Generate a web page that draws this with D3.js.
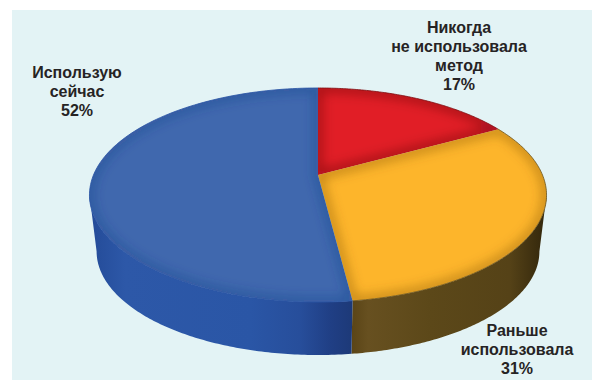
<!DOCTYPE html>
<html>
<head>
<meta charset="utf-8">
<script src="https://cdn.jsdelivr.net/npm/d3@7/dist/d3.min.js"></script>
<style>
  html, body { margin: 0; padding: 0; background: #fff; }
  svg { display: block; }
  text { font-family: "Liberation Sans", Arial, sans-serif; font-weight: 700; font-size: 16px; fill: #262324; text-anchor: middle; }
</style>
</head>
<body>
<svg id="chart" width="592" height="380"></svg>
<script>
// Method use shares, clockwise from twelve o'clock
const categories = ["Никогда не использовала метод", "Раньше использовала", "Использую сейчас"];
const shares = [17, 31, 52];
const faceColors = ["#e11e26", "#fdb52b", "#4068ae"];
const rimColors = ["#7d1014", "#6a5320", "#2a54a4"];
const labelLines = [
  ["Никогда", "не использовала", "метод", "17%"],
  ["Раньше", "использовала", "31%"],
  ["Использую", "сейчас", "52%"]
];

const svg = d3.select("#chart");
const defs = svg.append("defs");

svg.append("rect").attr("x", 12).attr("y", 10).attr("width", 580).attr("height", 370).attr("fill", "#e3f3f5");

// Perspective projection of a flat disc: k tilts the far edge away from the viewer
const k = -0.187;
const topDisc = { cx: 318, cy: 175, a: 224.5, b: 103.3 };
const baseDisc = { cx: 318, cy: 232, a: 217.5, b: 100 };
const project = (disc, angle) => {
  const u = Math.sin(angle), v = -Math.cos(angle), w = 1 + k * v;
  return [disc.cx + disc.a * u / w, disc.cy + disc.b * v / w];
};

const arcs = d3.pie().sort(null).value(d => d)(shares);
const samples = (a0, a1) => d3.range(0, 121).map(i => a0 + (a1 - a0) * i / 120);
const line = d3.line();

const facePath = d => line([[topDisc.cx, topDisc.cy], ...samples(d.startAngle, d.endAngle).map(t => project(topDisc, t))]) + "Z";

// Side wall runs between the left and right silhouette points of the disc
const silhouette = Math.PI - Math.acos(-k);
const sideRange = d => {
  const a0 = Math.max(d.startAngle, silhouette);
  const a1 = Math.min(d.endAngle, 2 * Math.PI - silhouette);
  return a1 > a0 ? [a0, a1] : null;
};
const sidePath = ([a0, a1]) => {
  const s = samples(a0, a1);
  return line([...s.map(t => project(topDisc, t)), ...s.slice().reverse().map(t => project(baseDisc, t))]) + "Z";
};

const sideStops = [
  [],
  [[351, "#5a4416"], [368, "#675020"], [430, "#5c4819"], [510, "#554217"], [545, "#33270c"]],
  [[88, "#234a97"], [125, "#2d58a8"], [250, "#2a56a6"], [300, "#274e9b"], [330, "#203f85"], [352, "#1d3978"]]
];
sideStops.forEach((stops, i) => {
  if (!stops.length) return;
  const g = defs.append("linearGradient").attr("id", "side" + i)
    .attr("gradientUnits", "userSpaceOnUse")
    .attr("x1", 88).attr("x2", 546).attr("y1", 0).attr("y2", 0);
  stops.forEach(([x, c]) => g.append("stop").attr("offset", (x - 88) / 458).attr("stop-color", c));
});

const sides = arcs.map((d, i) => ({ i, range: sideRange(d) })).filter(d => d.range);
svg.append("g").selectAll("path").data(sides).join("path")
  .attr("d", d => sidePath(d.range))
  .attr("fill", d => `url(#side${d.i})`);

// Slice faces with a soft darkening along their edges
defs.append("filter").attr("id", "soft").attr("x", "-20%").attr("y", "-20%").attr("width", "140%").attr("height", "140%")
  .append("feGaussianBlur").attr("stdDeviation", 6);

arcs.forEach((d, i) => {
  defs.append("clipPath").attr("id", "clip" + i).append("path").attr("d", facePath(d));
});

const faces = svg.append("g");
faces.selectAll("path.face").data(arcs).join("path")
  .attr("class", "face")
  .attr("d", facePath)
  .attr("fill", (d, i) => faceColors[i]);

const shadeOpacity = [0.55, 0.55, 0.45];
const shadeColor = ["#5a0a10", "#7a4a10", "#1d3a80"];
faces.selectAll("g.shade").data(arcs).join("g")
  .attr("class", "shade")
  .attr("clip-path", (d, i) => `url(#clip${i})`)
  .append("path")
  .attr("d", facePath)
  .attr("fill", "none")
  .attr("stroke", (d, i) => shadeColor[i])
  .attr("stroke-width", 7)
  .attr("stroke-opacity", (d, i) => shadeOpacity[i])
  .attr("filter", "url(#soft)");

// Thin rim line around the upper edge of each slice
faces.selectAll("path.rim").data(arcs).join("path")
  .attr("class", "rim")
  .attr("d", d => line(samples(d.startAngle, d.endAngle).map(t => project(topDisc, t))))
  .attr("fill", "none")
  .attr("stroke", (d, i) => rimColors[i])
  .attr("stroke-width", 0.8);

// Category labels, one line per row
const labelAnchors = [[459, 33], [517, 336], [77, 78]];
const rowStep = 19;
const labels = svg.append("g").selectAll("text").data(labelLines).join("text")
  .attr("aria-label", (d, i) => categories[i]);
labels.selectAll("tspan").data((d, i) => d.map(t => ({ t, i }))).join("tspan")
  .attr("x", d => labelAnchors[d.i][0])
  .attr("y", (d, j) => labelAnchors[d.i][1] + j * rowStep)
  .text(d => d.t);
</script>
</body>
</html>
